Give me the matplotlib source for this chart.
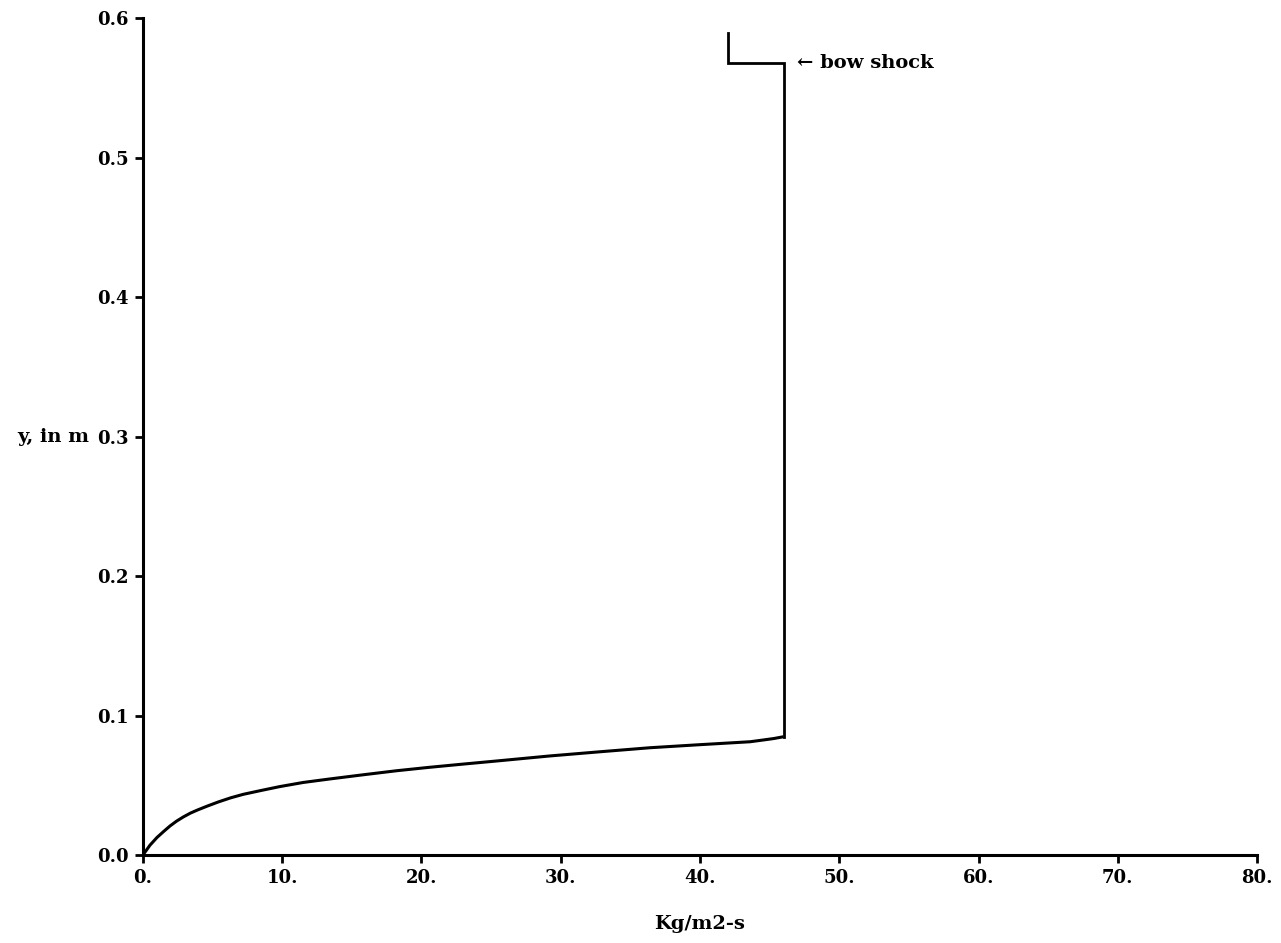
import matplotlib.pyplot as plt

plt.switch_backend('Agg')

# mass flux profile through the shock layer
flux = [0.0, 0.5, 1.0, 1.5, 1.94, 2.4, 2.9, 3.4, 3.9, 4.6, 5.4, 6.3, 7.2, 8.5,
        9.8, 11.5, 13.4, 15.8, 18.2, 20.5, 22.8, 25.5, 29.2, 32.8, 36.4, 40.0,
        43.6, 44.5, 45.3, 46.0]
height = [0.0, 0.007, 0.0125, 0.017, 0.0208, 0.0242, 0.0273, 0.030, 0.0322,
          0.035, 0.038, 0.041, 0.0435, 0.0463, 0.049, 0.052, 0.0545, 0.0575,
          0.0604, 0.0628, 0.065, 0.0675, 0.071, 0.074, 0.0769, 0.0791, 0.0812,
          0.0824, 0.0835, 0.0848]

# vertical jump up to the shock and the shock marker
shock_x = [46.0, 46.0, 42.0, 42.0]
shock_y = [0.0848, 0.5675, 0.5675, 0.5895]

x_ticks = [0, 10, 20, 30, 40, 50, 60, 70, 80]
x_labels = ['0.', '10.', '20.', '30.', '40.', '50.', '60.', '70.', '80.']
y_ticks = [0.0, 0.1, 0.2, 0.3, 0.4, 0.5, 0.6]
y_labels = ['0.0', '0.1', '0.2', '0.3', '0.4', '0.5', '0.6']

plt.rcParams['font.family'] = ['DejaVu Serif']
plt.rcParams['font.weight'] = 'bold'

fig = plt.figure(figsize=(12.81, 9.43), dpi=100)
ax = fig.add_axes([0.1116, 0.0933, 0.8697, 0.8876])

ax.plot(flux, height, color='black', linewidth=2.2, solid_capstyle='butt',
        solid_joinstyle='round')
ax.plot(shock_x, shock_y, color='black', linewidth=2.0, solid_joinstyle='miter')

ax.text(47.0, 0.5675, '\u2190 bow shock', fontsize=14, fontweight='bold',
        ha='left', va='center')

ax.set_xlim(0, 80)
ax.set_ylim(0, 0.6)
ax.set_xticks(x_ticks)
ax.set_xticklabels(x_labels)
ax.set_yticks(y_ticks)
ax.set_yticklabels(y_labels)

for side in ['top', 'right']:
    ax.spines[side].set_visible(False)
for side in ['left', 'bottom']:
    ax.spines[side].set_linewidth(2.2)

ax.tick_params(axis='both', direction='out', length=6, width=2, labelsize=13, pad=4)
for lab in ax.get_xticklabels() + ax.get_yticklabels():
    lab.set_fontweight('bold')

ax.set_xlabel('Kg/m2-s', fontsize=14, fontweight='bold', labelpad=20)
ax.set_ylabel('y, in m', fontsize=14, fontweight='bold', rotation=0,
              ha='right', va='center')
ax.yaxis.set_label_coords(-0.048, 0.5)

plt.savefig('out.png', dpi=100, facecolor='white')
